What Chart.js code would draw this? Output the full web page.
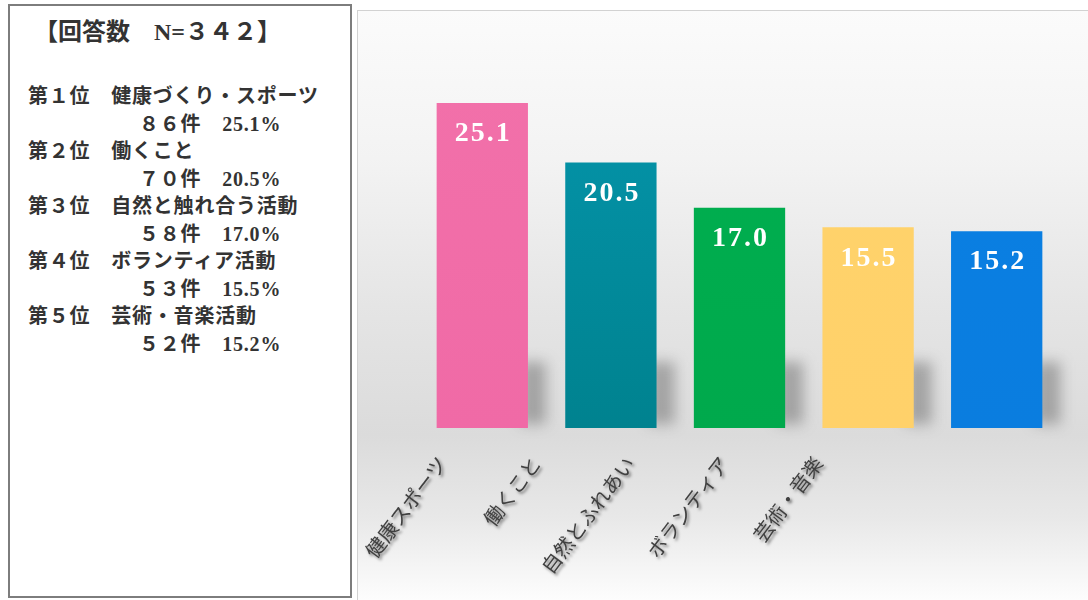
<!DOCTYPE html>
<html><head><meta charset="utf-8">
<script src="https://cdn.jsdelivr.net/npm/chart.js@4.4.1/dist/chart.umd.min.js"></script>
<style>
html,body{margin:0;padding:0;width:1088px;height:600px;overflow:hidden;background:#fff;}
#box{position:absolute;left:8px;top:4px;width:340px;height:590px;border:2px solid #7d7d7d;background:#fff;}
#txt{position:absolute;left:0;top:0;font-family:'Liberation Serif','Noto Sans CJK JP',serif;color:#333;font-weight:bold;}
#title{position:absolute;left:34px;top:17px;font-size:24px;white-space:pre;line-height:30px;}
.ln{position:absolute;font-size:20px;white-space:pre;line-height:27px;letter-spacing:0.8px;}
#panel{position:absolute;left:357px;top:10px;width:730px;height:589px;border-top:1px solid #d2d2d2;border-left:1px solid #d2d2d2;
 background:linear-gradient(to bottom,#fbfbfb 0%,#f3f3f3 25%,#e5e5e5 50%,#dbdbdb 72%,#e8e8e8 86%,#fdfdfd 100%);}
#wrap{position:absolute;left:358px;top:11px;width:730px;height:589px;}
</style></head>
<body>
<div id="box"></div>
<div id="panel"></div>
<div id="txt"></div>
<div id="wrap"><canvas id="c" width="730" height="589"></canvas></div>
<script>
// ---- data ----
const categories = ['健康スポーツ', '働くこと', '自然とふれあい', 'ボランティア', '芸術・音楽'];
const percents = [25.1, 20.5, 17.0, 15.5, 15.2];
const counts = [86, 70, 58, 53, 52];
const rankNames = ['健康づくり・スポーツ', '働くこと', '自然と触れ合う活動', 'ボランティア活動', '芸術・音楽活動'];
const barColors = ['#f271aa', '#0597ae', '#00b050', '#ffd36b', '#0a80e4'];
const barColorsBottom = ['#f06aa6', '#00828f', '#00a94c', '#ffd16a', '#0a7ddf'];
const titleText = '【回答数　N=３４２】';

// ---- text box ----
const fw = s => String(s).replace(/[0-9]/g, d => String.fromCharCode(d.charCodeAt(0) + 0xFEE0));
const txt = document.getElementById('txt');
const t = document.createElement('div'); t.id = 'title'; t.textContent = titleText; txt.appendChild(t);
rankNames.forEach((n, i) => {
  const a = document.createElement('div'); a.className = 'ln';
  a.style.left = '28px'; a.style.top = (83 + i * 55) + 'px';
  a.textContent = '第' + fw(i + 1) + '位　' + n; txt.appendChild(a);
  const b = document.createElement('div'); b.className = 'ln';
  b.style.left = '139px'; b.style.top = (110.5 + i * 55) + 'px';
  b.textContent = fw(counts[i]) + '件　' + percents[i].toFixed(1) + '%'; txt.appendChild(b);
});

// ---- chart ----
const deco = {
  id: 'deco',
  beforeDraw(chart) {
    const ctx = chart.ctx;
    ctx.save();
    ctx.shadowColor = 'rgba(0,0,0,0.5)';
    ctx.shadowBlur = 3;
    ctx.shadowOffsetX = 2;
    ctx.shadowOffsetY = 2;
  },
  beforeDatasetsDraw(chart) {
    const ctx = chart.ctx;
    ctx.restore();
    const meta = chart.getDatasetMeta(0);
    ctx.save();
    ctx.filter = 'blur(7px)';
    ctx.fillStyle = 'rgba(80,80,80,0.42)';
    meta.data.forEach(bar => {
      const right = bar.x + bar.width / 2;
      ctx.fillRect(right - 8, bar.base - 66, 26, 62);
    });
    ctx.restore();
  },
  afterDatasetsDraw(chart) {
    const ctx = chart.ctx;
    const meta = chart.getDatasetMeta(0);
    ctx.save();
    ctx.fillStyle = '#ffffff';
    ctx.font = 'bold 28px "Liberation Serif", serif';
    ctx.letterSpacing = '2px';
    ctx.textAlign = 'center';
    ctx.textBaseline = 'middle';
    meta.data.forEach((bar, i) => {
      ctx.fillText(percents[i].toFixed(1), bar.x + 1, bar.y + 31);
    });
    ctx.restore();
  }
};

function barFill(c) {
  const ca = c.chart.chartArea;
  const i = c.dataIndex;
  if (!ca || i === undefined) return barColors[i || 0];
  const g = c.chart.ctx.createLinearGradient(0, ca.top, 0, ca.bottom);
  g.addColorStop(0, barColors[i]);
  g.addColorStop(1, barColorsBottom[i]);
  return g;
}

new Chart(document.getElementById('c'), {
  type: 'bar',
  data: {
    labels: categories,
    datasets: [{
      data: percents,
      backgroundColor: barFill,
      borderWidth: 0,
      categoryPercentage: 1,
      barPercentage: 0.71,
      xAxisID: 'x',
      yAxisID: 'y'
    }]
  },
  options: {
    responsive: false,
    animation: false,
    layout: { padding: { left: 60, right: 27, top: 28.5, bottom: 0 } },
    plugins: { legend: { display: false }, tooltip: { enabled: false } },
    scales: {
      x: { type: 'category', display: false, offset: true },
      x2: {
        type: 'linear', position: 'bottom', offset: false,
        min: -0.2553, max: 6.585,
        grid: { display: false, drawTicks: false, offset: false },
        border: { display: false },
        afterFit: s => { s.height = 172; s.paddingLeft = 0; s.paddingRight = 0; },
        ticks: {
          stepSize: 1, autoSkip: false, includeBounds: false, minRotation: 53, maxRotation: 53, padding: 24,
          color: '#404040',
          font: { size: 20, family: '"Noto Sans CJK JP", sans-serif' },
          callback: v => (Number.isInteger(v) && categories[v] !== undefined) ? categories[v] : ''
        }
      },
      y: { display: false, min: 0, max: 30 }
    }
  },
  plugins: [deco]
});
</script>
</body></html>
